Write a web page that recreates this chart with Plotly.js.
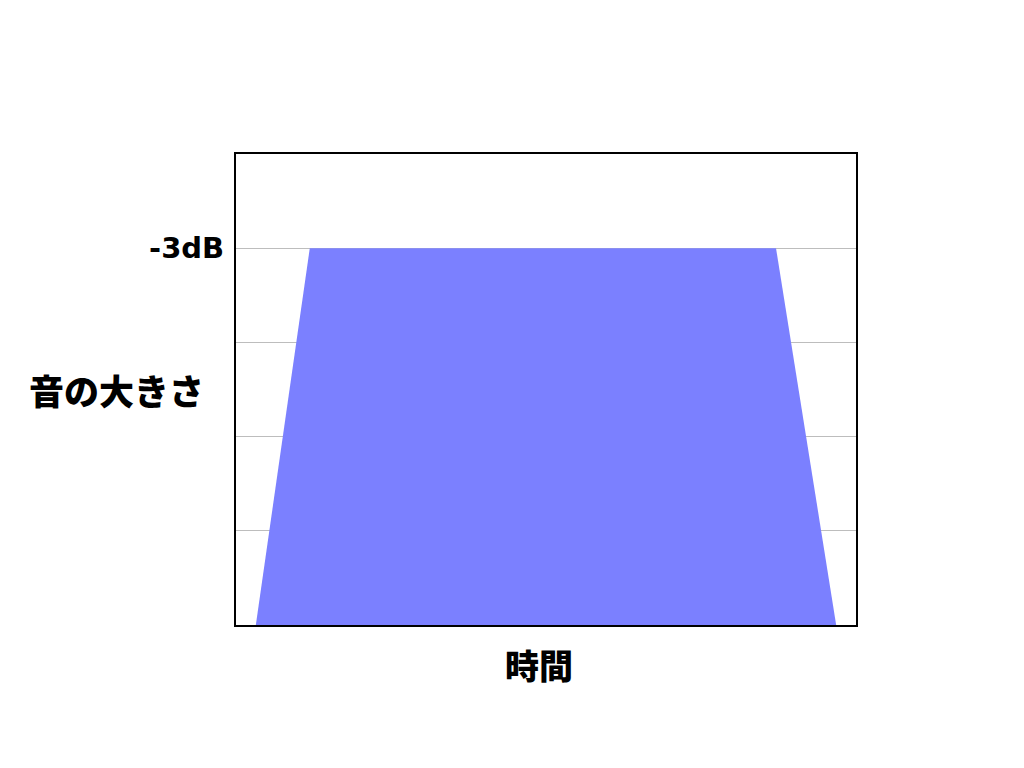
<!DOCTYPE html>
<html>
<head>
<meta charset="utf-8">
<script src="https://cdn.plot.ly/plotly-3.0.1.min.js"></script>
<style>html,body{margin:0;padding:0;background:#fff;}#chart{width:1024px;height:768px;}</style>
</head>
<body>
<div id="chart"></div>
<script>
// Envelope of loudness over time (trapezoid: fade-in, sustain at -3dB, fade-out)
const timePoints = [3.2, 11.9, 87.1, 96.8];
const loudness = [0, 4, 4, 0];
const gridLevels = [1, 2, 3, 4];
const gridLabels = ['', '', '', '-3dB'];
const xLabel = '時間';
const yLabel = '音の大きさ';

const cjk = '"Noto Sans CJK JP", "Noto Sans", sans-serif';

const trace = {
  type: 'scatter',
  mode: 'lines',
  x: timePoints,
  y: loudness,
  fill: 'toself',
  fillcolor: '#7b80ff',
  line: {width: 0, color: '#7b80ff'},
  hoverinfo: 'skip',
  showlegend: false
};

const layout = {
  width: 1024,
  height: 768,
  margin: {l: 236, r: 168, t: 154, b: 143, pad: 0},
  paper_bgcolor: '#ffffff',
  plot_bgcolor: '#ffffff',
  showlegend: false,
  xaxis: {
    range: [0, 100],
    showgrid: false,
    zeroline: false,
    showticklabels: false,
    ticks: '',
    showline: true,
    linecolor: '#000000',
    linewidth: 2,
    mirror: true,
    fixedrange: true
  },
  yaxis: {
    range: [0, 5],
    tickvals: gridLevels,
    ticktext: gridLabels,
    showgrid: true,
    gridcolor: '#bdbdbd',
    gridwidth: 1,
    zeroline: false,
    ticks: 'outside',
    ticklen: 4,
    tickcolor: 'rgba(0,0,0,0)',
    tickfont: {family: '"DejaVu Sans", sans-serif', size: 29, color: '#000000', weight: 900},
    showline: true,
    linecolor: '#000000',
    linewidth: 2,
    mirror: true,
    fixedrange: true
  },
  annotations: [
    {
      text: xLabel,
      xref: 'paper', yref: 'paper',
      x: 0.488, y: -0.083,
      xanchor: 'center', yanchor: 'middle',
      showarrow: false,
      font: {family: cjk, size: 34, color: '#000000', weight: 900}
    },
    {
      text: yLabel,
      xref: 'paper', yref: 'paper',
      x: -0.192, y: 0.501,
      xanchor: 'center', yanchor: 'middle',
      showarrow: false,
      font: {family: cjk, size: 35, color: '#000000', weight: 900}
    }
  ]
};

Plotly.newPlot('chart', [trace], layout, {displayModeBar: false, staticPlot: true});
</script>
</body>
</html>
